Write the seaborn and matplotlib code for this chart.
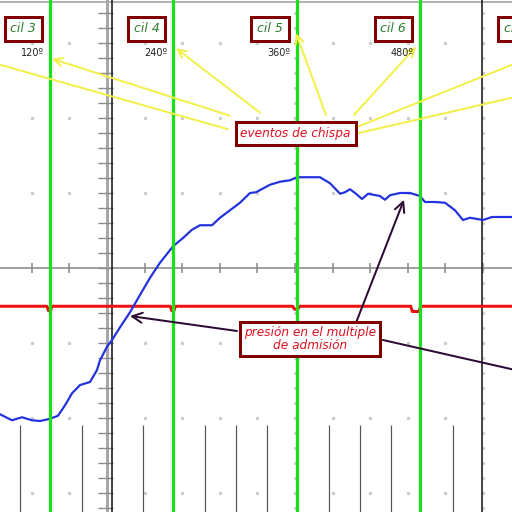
import matplotlib.pyplot as plt
import numpy as np
import seaborn as sns

# Scope capture: x = crank angle (deg), y = screen divisions from the centre line
blue_deg = [71.3, 83.0, 92.7, 102.5, 110.3, 120.0, 127.7, 134.6, 141.4, 149.2, 158.9, 165.7,
            168.6, 175.4, 180.3, 188.1, 197.8, 207.5, 217.3, 227.0, 239.7, 249.4, 258.1,
            265.9, 277.6, 285.4, 295.1, 304.8, 314.6, 320.4, 334.0, 343.8, 353.5, 360.3,
            382.7, 392.4, 402.2, 407.0, 411.9, 417.7, 423.6, 429.4, 441.0, 445.9, 450.8,
            460.5, 470.2, 480.0, 484.8, 494.6, 504.3, 514.0, 521.8, 528.6, 541.3, 550.0, 569.5]
blue_div = [-1.95, -2.03, -1.99, -2.03, -2.04, -2.01, -1.97, -1.83, -1.67, -1.56, -1.52, -1.36,
            -1.23, -1.05, -0.96, -0.79, -0.59, -0.36, -0.13, 0.07, 0.29, 0.40, 0.51,
            0.57, 0.57, 0.67, 0.77, 0.87, 1.00, 1.01, 1.11, 1.15, 1.17, 1.21,
            1.21, 1.13, 0.99, 1.01, 1.05, 0.99, 0.92, 0.99, 0.96, 0.91, 0.97,
            1.00, 1.00, 0.96, 0.88, 0.88, 0.87, 0.77, 0.64, 0.67, 0.64, 0.68, 0.68]

red_deg = [71.3, 117, 118.5, 120.5, 122, 237, 238.5, 240.5, 242, 356, 358, 361, 363,
           471, 472.5, 479, 480.5, 569.5]
red_div = [-0.51, -0.51, -0.57, -0.57, -0.51, -0.51, -0.57, -0.57, -0.51, -0.51, -0.55, -0.55,
           -0.51, -0.51, -0.58, -0.58, -0.51, -0.51]

spark_deg = [120, 240, 360, 480]
tdc_deg = [180, 540]
cyl_names = ["cil 3", "cil 4", "cil 5", "cil 6", "cil 7"]
cyl_deg = [120, 240, 360, 480, 600]
angle_labels = ["120º", "240º", "360º", "480º"]
marker_deg = [90.8, 151.1, 210.4, 270.8, 300.9, 331.1, 391.4, 421.6, 451.7, 512.1]
grid_cols = [102.3, 138.9, 175.4, 212.0, 248.6, 285.2, 321.8, 358.4, 394.9,
             431.5, 468.1, 504.7, 541.3]
grid_rows = [-3, -2, -1, 1, 2, 3]

# callout lines (from, to)
spark_arrows = [((295.1, 2.03), (121.9, 2.79)), ((324.3, 2.07), (242.6, 2.93)),
                ((388.5, 2.04), (359.3, 3.13)), ((415.7, 2.04), (476.1, 2.95))]
spark_lines = [((293.2, 1.85), (71.3, 2.71)), ((420.6, 1.89), (569.5, 2.71)),
               ((420.6, 1.80), (569.5, 2.27))]
press_arrows = [((301.9, -0.84), (197.8, -0.64)), ((417.7, -0.73), (464.4, 0.91))]
press_lines = [((443.9, -0.96), (569.5, -1.35))]

sns.set_theme(style="white")
plt.rcParams["font.family"] = ["DejaVu Sans"]

fig = plt.figure(figsize=(5.12, 5.12), dpi=100)
ax = fig.add_axes([0, 0, 1, 1])
ax.set_xlim(71.3, 569.5)
ax.set_ylim(-3.253, 3.573)
ax.axis("off")

px = 0.72  # one pixel in points

# graticule
gx, gy = np.meshgrid(grid_cols, grid_rows)
ax.plot(gx.ravel(), gy.ravel(), ls="none", marker="o", ms=1.5, color="#cccccc", zorder=1)
minor = np.arange(-3.2, 3.6, 0.2)
for c in (grid_cols[7], grid_cols[-1]):
    ax.plot(np.full_like(minor, c), minor, ls="none", marker="o", ms=1.3, color="#cccccc", zorder=1)
ax.axhline(0, color="#8c8c8c", lw=1.6 * px, zorder=1)
ax.vlines(grid_cols, -0.07, 0.07, color="#8c8c8c", lw=1.6 * px, zorder=1)
ax.axhline(3.55, color="#9a9a9a", lw=1.5 * px, zorder=1)
ax.axvline(grid_cols[2], color="#a8a8a8", lw=3 * px, zorder=1)
ax.hlines(minor, 166.7, 181.3, color="#8c8c8c", lw=1.4 * px, zorder=1)

# digital markers at the bottom
ax.vlines(marker_deg, -3.3, -2.09, color="#555555", lw=1.2 * px, zorder=1)

# TDC reference lines
for d in tdc_deg:
    ax.axvline(d, color="#1a1a1a", lw=1.6 * px, zorder=2)

# traces
sns.lineplot(x=red_deg, y=red_div, ax=ax, color="#ee1111", lw=3 * px,
             estimator=None, sort=False, zorder=3)
sns.lineplot(x=blue_deg, y=blue_div, ax=ax, color="#2233dd", lw=2.2 * px,
             estimator=None, sort=False, zorder=3)

# spark events
for d in spark_deg:
    ax.axvline(d, color="#19e019", lw=3.2 * px, zorder=4)

yellow = "#f2f04a"
for a, b in spark_arrows:
    ax.annotate("", xy=b, xytext=a, zorder=5,
                arrowprops=dict(arrowstyle="->,head_length=0.5,head_width=0.25",
                                color=yellow, lw=2 * px, shrinkA=0, shrinkB=0))
for a, b in spark_lines:
    ax.plot([a[0], b[0]], [a[1], b[1]], color=yellow, lw=2 * px, zorder=5)

purple = "#2c0a36"
for a, b in press_arrows:
    ax.annotate("", xy=b, xytext=a, zorder=5,
                arrowprops=dict(arrowstyle="->,head_length=0.6,head_width=0.3",
                                color=purple, lw=2 * px, shrinkA=0, shrinkB=0))
for a, b in press_lines:
    ax.plot([a[0], b[0]], [a[1], b[1]], color=purple, lw=2 * px, zorder=5)

box = dict(boxstyle="square,pad=0.45", fc="white", ec="#800000", lw=3 * px)
for name, d in zip(cyl_names, cyl_deg):
    ax.text(d - 26, 3.19, name, ha="center", va="center", fontsize=9, style="italic",
            color="#2e7d2e", bbox=box, zorder=6)
for lab, d in zip(angle_labels, spark_deg):
    ax.text(d - 6, 2.87, lab, ha="right", va="center", fontsize=7, color="#222222", zorder=6)

ax.text(359, 1.79, "eventos de chispa", ha="center", va="center", fontsize=8.7,
        style="italic", color="#e01020", bbox=dict(box, boxstyle="square,pad=0.4"), zorder=6)
ax.text(373, -0.95, "presión en el multiple\nde admisión", ha="center", va="center",
        fontsize=8.7, style="italic", color="#e01020", linespacing=1.0,
        bbox=dict(box, boxstyle="square,pad=0.35"), zorder=6)

fig.savefig("out.png", dpi=100)
